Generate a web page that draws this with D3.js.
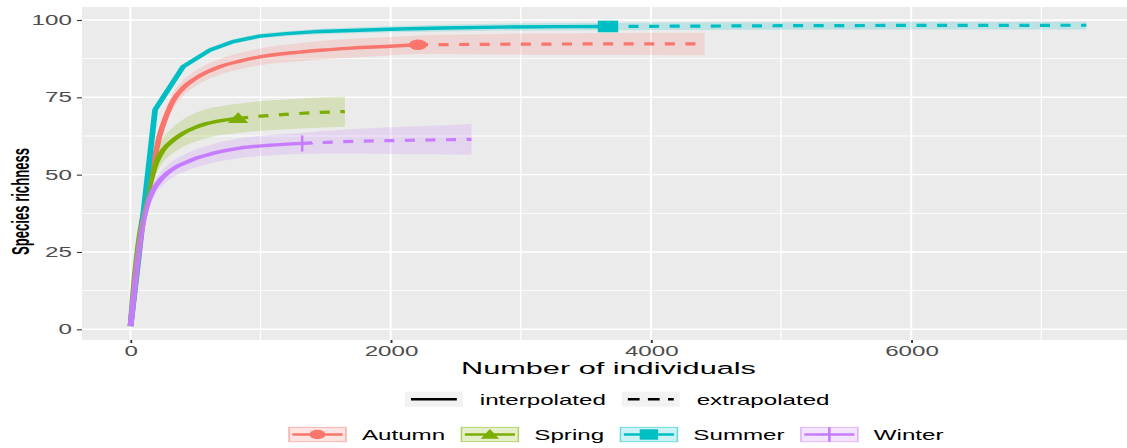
<!DOCTYPE html>
<html>
<head>
<meta charset="utf-8">
<script src="https://cdn.jsdelivr.net/npm/d3@7"></script>
<style>
  body { margin: 0; background: #ffffff; }
  svg { display: block; }
  text { font-family: "Liberation Sans", Arial, Helvetica, sans-serif; }
</style>
</head>
<body>
<svg id="chart" width="1127" height="448"></svg>
<script>
// ---- data: sample-size-based rarefaction / extrapolation curves ----
const seasons = ["Autumn", "Spring", "Summer", "Winter"];
const seasonColors = ["#F8766D", "#7CAE00", "#00BFC4", "#C77CFF"];
const lineTypeLabels = ["interpolated", "extrapolated"];

// observed sample size (individuals) per season
const observedN = [2210, 828, 3670, 1320];

const autumnM  = [1, 60, 111, 175, 221, 280, 329, 400, 482, 580, 687, 840, 995, 1150, 1302, 1455, 1700, 1993, 2210, 2600, 3000, 3500, 4000, 4412];
const autumnS  = [1, 22, 40, 53, 62, 69.5, 74, 77.8, 80.6, 83, 84.9, 86.7, 88.1, 89.0, 89.6, 90.2, 90.9, 91.5, 92.0, 92.1, 92.2, 92.25, 92.3, 92.3];
const autumnLo = [1, 20.5, 38, 50.7, 59.6, 67, 71.5, 75.3, 78.1, 80.5, 82.4, 84.1, 85.4, 86.2, 86.7, 87.2, 87.9, 88.5, 89.0, 88.9, 88.8, 88.75, 88.7, 88.6];
const autumnHi = [1, 23.5, 42, 55.3, 64.4, 72, 76.5, 80.3, 83.1, 85.5, 87.4, 89.3, 90.8, 91.8, 92.5, 93.2, 93.9, 94.5, 95.0, 95.3, 95.6, 95.75, 95.9, 95.9];

const springM  = [1, 22, 60, 111, 163, 200, 252, 330, 405, 500, 585, 700, 828, 1000, 1200, 1400, 1648];
const springS  = [1, 12, 27, 39.5, 49, 54, 58, 61.2, 63.4, 65.3, 66.5, 67.5, 68.2, 68.9, 69.5, 70.0, 70.4];
const springLo = [1, 10.5, 24.5, 36.3, 45.5, 50.3, 54.1, 57, 59, 60.7, 61.8, 62.8, 63.5, 64.1, 64.7, 65.1, 65.5];
const springHi = [1, 13.5, 29.5, 42.7, 52.5, 57.7, 61.9, 65.4, 67.8, 69.9, 71.2, 72.2, 72.9, 73.7, 74.3, 74.9, 75.3];

const summerM  = [1, 190, 405, 611, 790, 995, 1200, 1455, 1993, 2400, 2838, 3300, 3670, 4200, 5000, 6000, 7346];
const summerS  = [1, 71, 84.9, 90.3, 93.0, 94.8, 95.6, 96.3, 97.0, 97.4, 97.7, 97.85, 97.9, 98.0, 98.15, 98.25, 98.3];
const summerLo = [1, 70, 84.0, 89.5, 92.2, 94.0, 94.8, 95.4, 96.0, 96.3, 96.6, 96.7, 96.7, 96.8, 96.85, 96.9, 96.9];
const summerHi = [1, 72, 85.8, 91.1, 93.8, 95.6, 96.4, 97.2, 98.0, 98.5, 98.8, 99.0, 99.1, 99.2, 99.3, 99.35, 99.4];

const winterM  = [1, 20, 48, 86, 124, 175, 230, 278, 340, 420, 500, 585, 700, 841, 1071, 1320, 1600, 2000, 2300, 2621];
const winterS  = [1, 9, 20, 32, 39.5, 45, 48.3, 50.3, 52.2, 53.8, 55.2, 56.3, 57.5, 58.6, 59.5, 60.1, 60.6, 61.0, 61.2, 61.4];
const winterLo = [1, 8, 18.5, 30, 37.3, 42.6, 45.8, 47.7, 49.5, 51, 52.3, 53.3, 54.4, 55.4, 56.2, 56.7, 56.8, 56.7, 56.6, 56.4];
const winterHi = [1, 10, 21.5, 34, 41.7, 47.4, 50.8, 52.9, 54.9, 56.6, 58.1, 59.3, 60.6, 61.8, 62.8, 63.5, 64.4, 65.3, 65.8, 66.4];

const xTicks = [0, 2000, 4000, 6000];
const xMinorTicks = [1000, 3000, 5000, 7000];
const yTicks = [0, 25, 50, 75, 100];
const yMinorTicks = [12.5, 37.5, 62.5, 87.5];

// ---- layout ----
const W = 1127, H = 448;
const SX = 1.7;                       // horizontal stretch of the whole figure
const panel = { left: 82 / SX, right: 1135 / SX, top: 7, bottom: 340 };

const x = d3.scaleLinear().domain([-372, 7720]).range([panel.left, panel.right]);
const y = d3.scaleLinear().domain([-3.46, 104.2]).range([panel.bottom, panel.top]);

const svg = d3.select("#chart");
const root = svg.append("g").attr("transform", `scale(${SX},1)`);

// panel background
root.append("rect")
  .attr("x", panel.left).attr("y", panel.top)
  .attr("width", panel.right - panel.left).attr("height", panel.bottom - panel.top)
  .attr("fill", "#EBEBEB");

// grid
const grid = root.append("g");
grid.selectAll(".xminor").data(xMinorTicks).join("line")
  .attr("x1", d => x(d)).attr("x2", d => x(d))
  .attr("y1", panel.top).attr("y2", panel.bottom)
  .attr("stroke", "#fff").attr("stroke-width", 0.75);
grid.selectAll(".yminor").data(yMinorTicks).join("line")
  .attr("x1", panel.left).attr("x2", panel.right)
  .attr("y1", d => y(d)).attr("y2", d => y(d))
  .attr("stroke", "#fff").attr("stroke-width", 0.8);
grid.selectAll(".xmajor").data(xTicks).join("line")
  .attr("x1", d => x(d)).attr("x2", d => x(d))
  .attr("y1", panel.top).attr("y2", panel.bottom)
  .attr("stroke", "#fff").attr("stroke-width", 1.2);
grid.selectAll(".ymajor").data(yTicks).join("line")
  .attr("x1", panel.left).attr("x2", panel.right)
  .attr("y1", d => y(d)).attr("y2", d => y(d))
  .attr("stroke", "#fff").attr("stroke-width", 1.4);

// axes
const xAxis = root.append("g")
  .attr("transform", `translate(0,${panel.bottom})`)
  .call(d3.axisBottom(x).tickValues(xTicks).tickSize(3).tickPadding(3).tickFormat(d3.format("d")));
const yAxis = root.append("g")
  .attr("transform", `translate(${panel.left},0)`)
  .call(d3.axisLeft(y).tickValues(yTicks).tickSize(3).tickPadding(3));
[xAxis, yAxis].forEach(a => {
  a.select(".domain").remove();
  a.selectAll(".tick line").attr("stroke", "#333333").attr("stroke-width", 1.1);
  a.selectAll(".tick text").attr("fill", "#4D4D4D").style("font-size", "14.2px")
    .style("font-family", "'Liberation Sans', Arial, sans-serif");
});

// axis titles
root.append("text")
  .attr("x", (panel.left + panel.right) / 2).attr("y", 374.3)
  .attr("text-anchor", "middle").style("font-size", "16.5px").attr("fill", "#000")
  .attr("textLength", 173.5).attr("lengthAdjust", "spacingAndGlyphs")
  .text("Number of individuals");
root.append("text")
  .attr("transform", `translate(${29 / SX},201.5) rotate(-90)`)
  .attr("text-anchor", "middle").style("font-size", "14.5px").style("font-weight", "bold")
  .attr("textLength", 107).attr("lengthAdjust", "spacingAndGlyphs")
  .attr("fill", "#000")
  .text("Species richness");

// ---- plotted series ----
root.append("clipPath").attr("id", "panelClip")
  .append("rect").attr("x", panel.left).attr("y", panel.top)
  .attr("width", panel.right - panel.left).attr("height", panel.bottom - panel.top);
const plot = root.append("g").attr("clip-path", "url(#panelClip)");

const seriesM  = [autumnM, springM, summerM, winterM];
const seriesS  = [autumnS, springS, summerS, winterS];
const seriesLo = [autumnLo, springLo, summerLo, winterLo];
const seriesHi = [autumnHi, springHi, summerHi, winterHi];

const rows = seasons.map((name, i) => seriesM[i].map((m, j) => ({
  m, s: seriesS[i][j], lo: seriesLo[i][j], hi: seriesHi[i][j]
})));

// marker shapes (inner units, before the horizontal stretch)
function markerPath(i) {
  if (i === 0) return d3.symbol(d3.symbolCircle, Math.PI * 5.3 * 5.3)();
  if (i === 1) return "M0,-6.2L6,4.6L-6,4.6Z";
  if (i === 2) return "M-6,-5.8H6V5.8H-6Z";
  return "M-6.4,0H6.4M0,-8V8";
}
function drawMarker(g, i, cx, cy, scale) {
  const p = g.append("path")
    .attr("transform", `translate(${cx},${cy}) scale(${scale})`)
    .attr("d", markerPath(i));
  if (i === 3) p.attr("fill", "none").attr("stroke", seasonColors[i]).attr("stroke-width", 1.5 / scale);
  else p.attr("fill", seasonColors[i]);
}

// observed points
seasons.forEach((name, i) => {
  const obs = rows[i].find(r => r.m === observedN[i]);
  drawMarker(plot, i, x(obs.m), y(obs.s), 1);
});

// interpolated and extrapolated lines
seasons.forEach((name, i) => {
  const curve = i === 2 ? d3.curveLinear : d3.curveMonotoneX;
  const line = d3.line().x(d => x(d.m)).y(d => y(d.s)).curve(curve);
  const interp = rows[i].filter(r => r.m <= observedN[i]);
  const extrap = rows[i].filter(r => r.m >= observedN[i]);
  plot.append("path").attr("d", line(interp))
    .attr("fill", "none").attr("stroke", seasonColors[i]).attr("stroke-width", 3.4);
  plot.append("path").attr("d", line(extrap))
    .attr("fill", "none").attr("stroke", seasonColors[i]).attr("stroke-width", 3.2)
    .attr("stroke-dasharray", "5.9,6.2");
});

// confidence ribbons
seasons.forEach((name, i) => {
  const curve = i === 2 ? d3.curveLinear : d3.curveMonotoneX;
  const area = d3.area().x(d => x(d.m)).y0(d => y(d.lo)).y1(d => y(d.hi)).curve(curve);
  plot.append("path").attr("d", area(rows[i]))
    .attr("fill", seasonColors[i]).attr("fill-opacity", 0.2);
});

// ---- legends ----
const legend = root.append("g");
const legendFont = "14.2px";
// line-type legend
{
  let cx = 405 / SX;
  const kw = 34, kh = 15, ky = 391.7;
  lineTypeLabels.forEach((lab, k) => {
    legend.append("rect").attr("x", cx).attr("y", ky).attr("width", kw).attr("height", kh)
      .attr("fill", "#F2F2F2");
    legend.append("line").attr("x1", cx + 3.5).attr("x2", cx + kw - 3.5)
      .attr("y1", ky + kh / 2).attr("y2", ky + kh / 2)
      .attr("stroke", "#000").attr("stroke-width", 2.6)
      .attr("stroke-dasharray", k === 1 ? "6.9,4.9" : null);
    const t = legend.append("text").attr("x", cx + kw + 10).attr("y", 405)
      .style("font-size", legendFont).attr("fill", "#000").text(lab);
    cx = cx + kw + 10 + t.node().getComputedTextLength() + 9.4;
  });
}
// season legend
{
  let cx = 289 / SX;
  const kw = 33.5, kh = 14.4, ky = 427.3;
  seasons.forEach((lab, i) => {
    const g = legend.append("g");
    g.append("rect").attr("x", cx).attr("y", ky).attr("width", kw).attr("height", kh)
      .attr("fill", seasonColors[i]).attr("fill-opacity", 0.2)
      .attr("stroke", seasonColors[i]).attr("stroke-opacity", 0.55).attr("stroke-width", 0.9);
    g.append("line").attr("x1", cx + 2).attr("x2", cx + kw - 2)
      .attr("y1", ky + kh / 2).attr("y2", ky + kh / 2)
      .attr("stroke", seasonColors[i]).attr("stroke-width", 2.4);
    drawMarker(g, i, cx + kw / 2, ky + kh / 2, 0.9);
    const t = legend.append("text").attr("x", cx + kw + 9.4).attr("y", 440)
      .style("font-size", legendFont).attr("fill", "#000").text(lab);
    cx = cx + kw + 9.4 + t.node().getComputedTextLength() + 9.6;
  });
}
</script>
</body>
</html>
